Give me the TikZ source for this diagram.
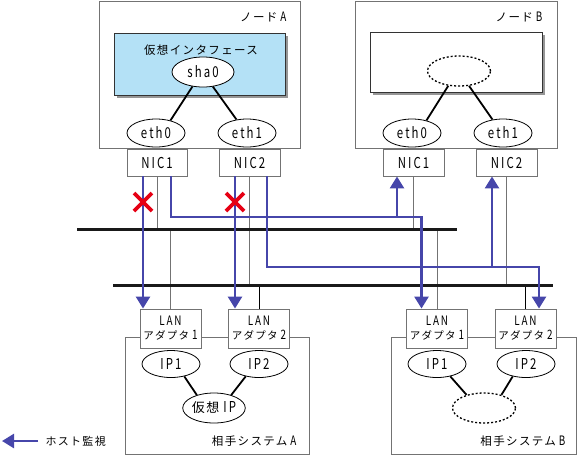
\documentclass[tikz,border=0pt]{standalone}
\usepackage{fontspec}
\setmainfont{Noto Sans CJK JP}
\newfontfamily\jp{Noto Sans CJK JP}[LetterSpace=12]
\newfontfamily\lt{Noto Sans CJK JP}[FakeStretch=0.76,LetterSpace=14]
\usetikzlibrary{arrows.meta,shapes.geometric}
\definecolor{bl}{RGB}{70,70,170}
\definecolor{lb}{RGB}{180,225,246}
\definecolor{xr}{RGB}{230,0,20}
\definecolor{gr}{RGB}{115,115,115}
\definecolor{sh}{RGB}{150,150,150}
\begin{document}
\begin{tikzpicture}[x=1pt,y=-1pt,
  box/.style={draw=gr,line width=0.9pt,rectangle,inner sep=0pt},
  ibox/.style={draw=black!80,line width=0.9pt,rectangle,inner sep=0pt},
  shbox/.style={fill=sh,rectangle,inner sep=0pt,draw=none},
  ell/.style={draw=black,line width=0.8pt,ellipse,inner sep=0pt,fill=white},
  dell/.style={draw=black,line width=1.3pt,ellipse,inner sep=0pt,dash pattern=on 2pt off 2pt},
  latin/.style={font=\fontsize{15}{15}\selectfont\lt},
  jtext/.style={font=\fontsize{11.5}{12}\selectfont\jp},
  link/.style={draw=black,line width=1.8pt},
  gline/.style={draw=gr,line width=0.9pt},
  kline/.style={draw=black,line width=0.9pt},
  bus/.style={draw=black!90,line width=3pt},
  blu/.style={draw=bl,line width=2.6pt},
  arr/.style={-{Triangle[width=14pt,length=12pt]}},
  xmark/.style={draw=xr,line width=3.6pt},
  adapter/.style={box,fill=white,minimum width=61pt,minimum height=39pt,align=center,font=\fontsize{10.5}{14}\selectfont}
]
\useasboundingbox (0,0) rectangle (577,456);

% outer boxes
\node[box,minimum width=201pt,minimum height=147pt] (nodeA) at (199.5,74.5) {};
\node[box,minimum width=202pt,minimum height=147pt] (nodeB) at (456,74.5) {};
\node[jtext,anchor=east] (lblA) at (290,17) {ノード\hspace{3pt}{\fontsize{13}{13}\selectfont\lt A}};
\node[jtext,anchor=east] (lblB) at (546,17) {ノード\hspace{3pt}{\fontsize{13}{13}\selectfont\lt B}};

% inner boxes with shadows
\node[shbox,minimum width=171pt,minimum height=62pt] (shA) at (202.5,67) {};
\node[ibox,fill=lb,minimum width=171pt,minimum height=62pt] (vifA) at (199.5,64) {};
\node[jtext] (vifAl) at (201,50) {仮想インタフェース};
\node[shbox,minimum width=172pt,minimum height=60pt] (shB) at (459,65) {};
\node[ibox,fill=white,minimum width=172pt,minimum height=60pt] (vifB) at (456,62) {};

\node[ell,latin,minimum width=62pt,minimum height=30pt] (sha0) at (203,72) {sha0};
\node[dell,minimum width=63pt,minimum height=30pt] (dB) at (459,71) {};

\node[ell,latin,minimum width=58pt,minimum height=28pt] (eth0a) at (156,133) {eth0};
\node[ell,latin,minimum width=58pt,minimum height=28pt] (eth1a) at (247,133) {eth1};
\node[ell,latin,minimum width=58pt,minimum height=28pt] (eth0b) at (412,133) {eth0};
\node[ell,latin,minimum width=58pt,minimum height=28pt] (eth1b) at (503,133) {eth1};

\draw[link] (sha0.234) -- (eth0a.41);
\draw[link] (sha0.304) -- (eth1a.128);
\draw[link] (dB.234) -- (eth0b.41);
\draw[link] (dB.304) -- (eth1b.128);

% NICs
\node[box,fill=white,latin,minimum width=60pt,minimum height=27pt] (nic1a) at (157,162.5) {NIC1};
\node[box,fill=white,latin,minimum width=61pt,minimum height=27pt] (nic2a) at (249.5,162.5) {NIC2};
\node[box,fill=white,latin,minimum width=61pt,minimum height=27pt] (nic1b) at (413.5,162.5) {NIC1};
\node[box,fill=white,latin,minimum width=61pt,minimum height=27pt] (nic2b) at (506.5,162.5) {NIC2};

% systems
\node[box,minimum width=184pt,minimum height=117pt] (sysA) at (217,395.5) {};
\node[box,minimum width=185pt,minimum height=117pt] (sysB) at (483.5,395.5) {};
\node[jtext,anchor=east] (sysAl) at (300,441) {相手システム\hspace{3pt}{\fontsize{13}{13}\selectfont\lt A}};
\node[jtext,anchor=east] (sysBl) at (569,441) {相手システム\hspace{3pt}{\fontsize{13}{13}\selectfont\lt B}};

\node[adapter] (lan1a) at (170.5,328.5) {{\fontsize{13}{13}\selectfont\lt LAN}\\{\jp アダプタ}\hspace{3pt}{\fontsize{13}{13}\selectfont\lt 1}};
\node[adapter] (lan2a) at (259,328.5) {{\fontsize{13}{13}\selectfont\lt LAN}\\{\jp アダプタ}\hspace{3pt}{\fontsize{13}{13}\selectfont\lt 2}};
\node[adapter] (lan1b) at (437,328.5) {{\fontsize{13}{13}\selectfont\lt LAN}\\{\jp アダプタ}\hspace{3pt}{\fontsize{13}{13}\selectfont\lt 1}};
\node[adapter] (lan2b) at (525.5,328.5) {{\fontsize{13}{13}\selectfont\lt LAN}\\{\jp アダプタ}\hspace{3pt}{\fontsize{13}{13}\selectfont\lt 2}};

\node[ell,latin,minimum width=58pt,minimum height=27pt] (ip1a) at (171,364) {IP1};
\node[ell,latin,minimum width=58pt,minimum height=27pt] (ip2a) at (259,364) {IP2};
\node[ell,minimum width=62pt,minimum height=30pt,font=\fontsize{13}{13}\selectfont] (vipa) at (214,408) {{\jp 仮想}\hspace{4pt}{\fontsize{15}{15}\selectfont\lt IP}};
\node[ell,latin,minimum width=58pt,minimum height=27pt] (ip1b) at (437,364) {IP1};
\node[ell,latin,minimum width=58pt,minimum height=27pt] (ip2b) at (526,364) {IP2};
\node[dell,minimum width=63pt,minimum height=30pt] (dipb) at (484,408) {};

\draw[link] (ip1a.317) -- (vipa.143);
\draw[link] (ip2a.223) -- (vipa.37);
\draw[link] (ip1b.317) -- (dipb.143);
\draw[link] (ip2b.223) -- (dipb.37);

% buses
\coordinate (b1l) at (77,229.5);
\coordinate (b1r) at (457,229.5);
\coordinate (b2l) at (113,285);
\coordinate (b2r) at (553,285);

% thin connections
\draw[gline] (nic1a.south) -- (nic1a.south |- b1l);
\draw[gline] (nic2a.south) -- (nic2a.south |- b2l);
\draw[gline] (nic1b.south) -- (nic1b.south |- b1l);
\draw[gline] (nic2b.south) -- (nic2b.south |- b2l);
\draw[gline] (lan1a.north |- b1l) -- (lan1a.north);
\draw[gline] (lan1b.north |- b1l) -- (lan1b.north);
\draw[kline] (lan2a.north |- b2l) -- (lan2a.north);
\draw[kline] (lan2b.north |- b2l) -- (lan2b.north);

\draw[bus] (b1l) -- (b1r);
\draw[bus] (b2l) -- (b2r);

% monitoring paths
\coordinate (s1) at ([xshift=-14pt]nic1a.south);
\coordinate (s2) at ([xshift=14pt]nic1a.south);
\coordinate (s3) at ([xshift=-14.5pt]nic2a.south);
\coordinate (s4) at ([xshift=17.5pt]nic2a.south);
\coordinate (k1) at (421.5,217);
\coordinate (k2) at (397,217);
\coordinate (k3) at (539,267);
\coordinate (k4) at (492,267);

\draw[blu,arr] (s1) -- (s1 |- lan1a.north);
\draw[blu,arr] (s3) -- (s3 |- lan2a.north);
\draw[blu,arr] (s2) |- (k1) -- (k1 |- lan1b.north);
\draw[blu,arr] (k2) -- (k2 |- nic1b.south);
\draw[blu,arr] (s4) |- (k3) -- (k3 |- lan2b.north);
\draw[blu,arr] (k4) -- (k4 |- nic2b.south);

% failure marks
\coordinate (x1) at (143,202);
\coordinate (x2) at (235,202);
\draw[xmark] ([shift={(-9,-9)}]x1) -- ([shift={(9,9)}]x1);
\draw[xmark] ([shift={(-9,9)}]x1) -- ([shift={(9,-9)}]x1);
\draw[xmark] ([shift={(-9,-9)}]x2) -- ([shift={(9,9)}]x2);
\draw[xmark] ([shift={(-9,9)}]x2) -- ([shift={(9,-9)}]x2);

% legend
\coordinate (lg1) at (38,441);
\coordinate (lg2) at (2,441);
\draw[blu,arr] (lg1) -- (lg2);
\node[anchor=west,font=\fontsize{11}{12}\selectfont\jp] (lgt) at (42,441) {ホスト監視};
\end{tikzpicture}
\end{document}
